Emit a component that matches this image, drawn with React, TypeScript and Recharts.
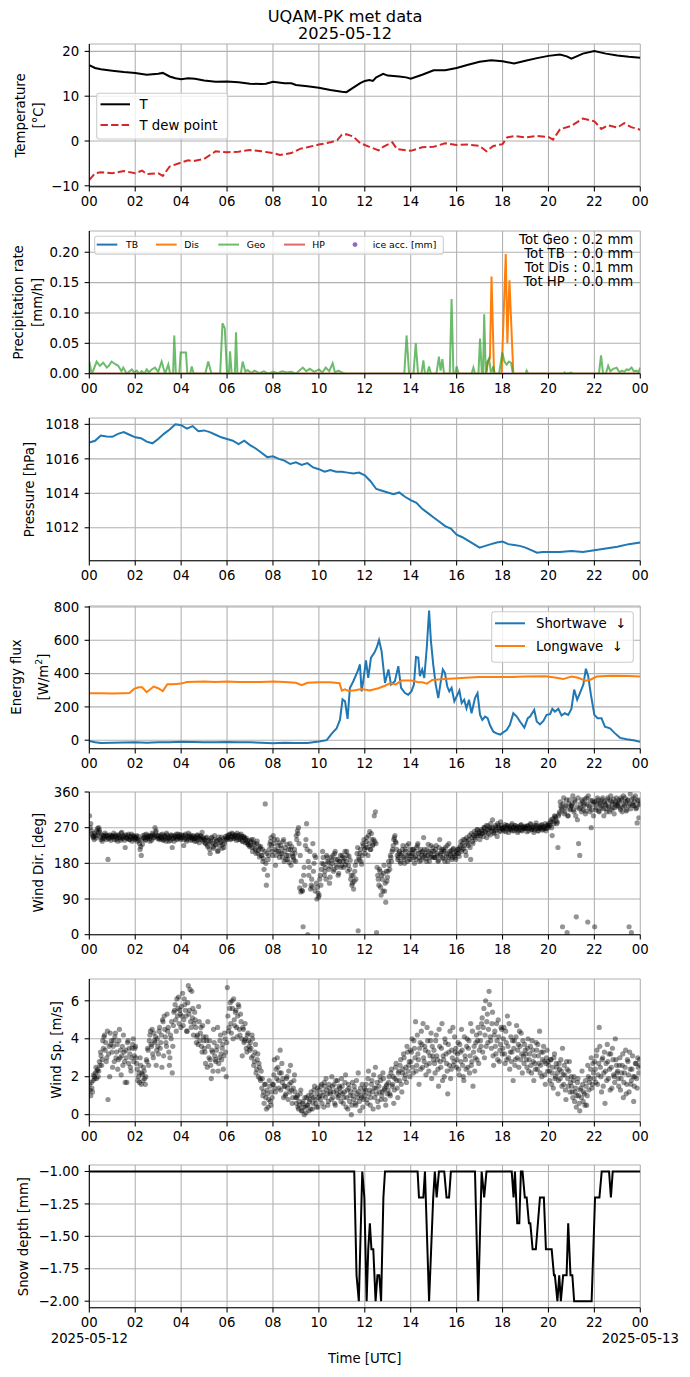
import React from 'react';
import { ComposedChart, Line, Scatter, XAxis, YAxis, CartesianGrid } from 'recharts';

// ---------------- DATA ----------------
const hourTicks = [0, 2, 4, 6, 8, 10, 12, 14, 16, 18, 20, 22, 24];

const tempT: [number, number][] = [
  [0, 16.9], [0.25, 16.3], [0.5, 16.0], [1, 15.7], [1.5, 15.4], [2, 15.2], [2.5, 14.8], [3, 15.0], [3.2, 15.2], [3.5, 14.4],
  [3.75, 14.0], [4, 13.8], [4.3, 14.0], [4.6, 13.9], [5, 13.5], [5.5, 13.2], [6, 13.3], [6.5, 13.1], [7, 12.8], [7.5, 12.7],
  [7.7, 12.8], [8, 13.2], [8.5, 12.9], [8.8, 12.9], [9, 12.5], [9.5, 12.2], [10, 11.9], [10.5, 11.4], [11, 11.0], [11.2, 10.9],
  [11.5, 11.9], [11.8, 12.9], [12, 13.4], [12.2, 13.6], [12.35, 13.4], [12.5, 14.2], [12.8, 15.0], [13, 14.6], [13.5, 14.4], [13.8, 14.2],
  [14, 13.9], [14.5, 14.8], [15, 15.8], [15.5, 15.8], [16, 16.3], [16.5, 17.0], [17, 17.7], [17.5, 18.0], [18, 17.8], [18.5, 17.3],
  [19, 17.9], [19.5, 18.5], [20, 19.0], [20.5, 19.3], [20.8, 18.9], [21, 18.4], [21.5, 19.5], [22, 20.1], [22.5, 19.5], [23, 19.1],
  [23.5, 18.8], [24, 18.6],
];

const tempTd: [number, number][] = [
  [0, -8.7], [0.25, -7.2], [0.5, -7.0], [1, -7.2], [1.5, -6.7], [2, -7.2], [2.3, -6.6], [2.5, -7.4], [3, -7.2], [3.2, -7.8],
  [3.5, -5.7], [4, -4.8], [4.3, -4.3], [4.5, -4.5], [5, -4.0], [5.5, -2.3], [6, -2.5], [6.5, -2.4], [7, -2.0], [7.5, -2.3],
  [8, -2.7], [8.3, -3.1], [8.8, -2.7], [9.2, -1.7], [9.5, -1.4], [10, -0.8], [10.5, -0.3], [10.8, 0.2], [11, 1.4], [11.2, 1.5],
  [11.5, 1.0], [11.8, -0.5], [12.2, -1.3], [12.6, -2.1], [12.8, -1.3], [13.2, -0.3], [13.4, -1.8], [14, -2.2], [14.5, -1.4], [15, -1.3],
  [15.5, -0.5], [16, -0.9], [16.5, -0.8], [17, -1.1], [17.3, -2.3], [17.6, -1.1], [18, -0.7], [18.2, 0.8], [18.5, 1.1], [19, 0.8],
  [19.5, 1.1], [20, 0.9], [20.2, 0.3], [20.5, 2.6], [21, 3.4], [21.5, 5.0], [22, 4.4], [22.3, 2.7], [22.6, 3.5], [23, 3.0],
  [23.3, 4.0], [23.6, 3.1], [24, 2.5],
];

const precipTB: [number, number][] = [[0, 0], [24, 0]];
const precipHP: [number, number][] = [[0, 0], [24, 0]];
const precipDis: [number, number][] = [
  [0, 0], [17.3, 0], [17.36, 0.02], [17.45, 0.025], [17.52, 0.16], [17.63, 0], [17.96, 0], [18.14, 0.197], [18.21, 0.05],
  [18.3, 0.154], [18.47, 0], [24, 0],
];
const precipGeo: [number, number][] = [
  [0, 0.02], [0.1, 0], [0.17, 0.005], [0.32, 0.02], [0.46, 0.013], [0.61, 0.018], [0.76, 0.01], [0.85, 0.013], [0.97, 0.02], [1.12, 0.016],
  [1.26, 0.013], [1.4, 0.004], [1.48, 0.01], [1.63, 0], [1.85, 0.007], [1.95, 0.002], [2.06, 0.005], [2.18, 0], [2.28, 0.004], [2.4, 0],
  [2.5, 0.007], [2.6, 0.002], [2.72, 0.007], [2.86, 0.01], [3.0, 0.003], [3.15, 0.02], [3.3, 0], [3.44, 0.015], [3.52, 0], [3.65, 0],
  [3.7, 0.063], [3.77, 0], [3.92, 0], [3.98, 0.035], [4.21, 0.035], [4.27, 0], [4.4, 0], [4.46, 0.012], [4.55, 0], [5.05, 0],
  [5.18, 0.02], [5.32, 0], [5.7, 0], [5.8, 0.083], [5.9, 0.075], [6.0, 0], [6.08, 0], [6.13, 0.037], [6.2, 0], [6.34, 0],
  [6.39, 0.068], [6.45, 0], [6.6, 0], [6.68, 0.02], [6.8, 0.003], [6.9, 0.006], [7.05, 0.001], [7.2, 0.005], [7.4, 0.001], [7.6, 0.004],
  [7.8, 0], [8.0, 0.003], [8.2, 0.001], [8.4, 0.004], [8.6, 0.002], [8.8, 0.003], [9.0, 0], [9.3, 0.01], [9.45, 0.004], [9.6, 0.008],
  [9.8, 0.003], [10.0, 0.007], [10.15, 0.002], [10.3, 0.01], [10.45, 0.004], [10.6, 0.017], [10.7, 0.002], [10.85, 0.005], [11.0, 0.002], [11.15, 0],
  [13.72, 0], [13.82, 0.063], [13.93, 0], [14.12, 0], [14.22, 0.05], [14.32, 0], [14.47, 0], [14.55, 0.022], [14.62, 0], [14.72, 0],
  [14.8, 0.012], [14.88, 0], [15.12, 0], [15.23, 0.028], [15.3, 0.005], [15.38, 0.024], [15.45, 0], [15.7, 0], [15.78, 0.123], [15.86, 0],
  [15.95, 0], [16.0, 0.012], [16.08, 0], [16.65, 0], [16.73, 0.01], [16.8, 0], [16.95, 0], [17.02, 0.058], [17.1, 0], [17.15, 0],
  [17.2, 0.098], [17.27, 0], [17.35, 0.02], [17.41, 0.025], [17.5, 0], [17.6, 0.012], [17.66, 0], [17.85, 0], [17.99, 0.035], [18.08, 0.02],
  [18.18, 0.015], [18.28, 0.02], [18.37, 0.018], [18.45, 0], [19.0, 0], [19.05, 0.005], [19.12, 0], [20.64, 0], [20.7, 0.002], [20.75, 0],
  [21.0, 0.002], [21.05, 0], [22.2, 0], [22.29, 0.03], [22.38, 0], [22.5, 0], [22.6, 0.013], [22.7, 0.004], [22.82, 0.008], [22.97, 0.01],
  [23.1, 0.002], [23.19, 0.005], [23.3, 0.003], [23.4, 0.007], [23.5, 0.006], [23.62, 0.01], [23.72, 0.004], [23.84, 0.005], [23.92, 0.002], [24, 0.01],
];

const pressure: [number, number][] = [
  [0, 1016.95], [0.25, 1017.05], [0.5, 1017.35], [0.75, 1017.3], [1, 1017.28], [1.25, 1017.45], [1.5, 1017.55], [1.75, 1017.4], [2, 1017.25], [2.25, 1017.2],
  [2.5, 1017.0], [2.75, 1016.9], [3, 1017.15], [3.25, 1017.45], [3.5, 1017.7], [3.75, 1018.0], [4, 1017.95], [4.25, 1017.75], [4.5, 1017.9], [4.75, 1017.6],
  [5, 1017.65], [5.25, 1017.55], [5.5, 1017.4], [5.75, 1017.25], [6, 1017.15], [6.25, 1017.05], [6.5, 1016.85], [6.75, 1017.05], [7, 1016.8], [7.25, 1016.6],
  [7.5, 1016.35], [7.75, 1016.1], [8, 1016.15], [8.25, 1016.0], [8.5, 1015.9], [8.75, 1015.7], [9, 1015.8], [9.25, 1015.65], [9.5, 1015.75], [9.75, 1015.5],
  [10, 1015.4], [10.25, 1015.25], [10.5, 1015.35], [10.75, 1015.25], [11, 1015.25], [11.25, 1015.2], [11.5, 1015.15], [11.75, 1015.2], [12, 1015.05], [12.25, 1014.7],
  [12.5, 1014.25], [12.75, 1014.15], [13, 1014.05], [13.25, 1013.95], [13.5, 1014.05], [13.75, 1013.8], [14, 1013.6], [14.25, 1013.45], [14.5, 1013.1], [14.75, 1012.85],
  [15, 1012.6], [15.25, 1012.35], [15.5, 1012.1], [15.75, 1011.95], [16, 1011.6], [16.25, 1011.45], [16.5, 1011.25], [16.75, 1011.05], [17, 1010.85], [17.25, 1010.95],
  [17.5, 1011.05], [17.75, 1011.15], [18, 1011.2], [18.25, 1011.05], [18.5, 1011.0], [18.75, 1010.95], [19, 1010.85], [19.25, 1010.7], [19.5, 1010.55], [19.75, 1010.6],
  [20, 1010.6], [20.5, 1010.6], [21, 1010.65], [21.5, 1010.6], [22, 1010.7], [22.5, 1010.8], [23, 1010.9], [23.5, 1011.05], [24, 1011.15],
];

const shortwave: [number, number][] = [
  [0, -5], [0.25, -12], [0.5, -17], [1, -15], [1.5, -14], [2, -13], [2.5, -15], [3, -13], [3.5, -12], [4, -9],
  [4.5, -11], [5, -13], [5.5, -12], [6, -11], [6.5, -12], [7, -13], [7.5, -16], [8, -18], [8.5, -16], [9, -17],
  [9.5, -17], [10, -8], [10.34, 0], [10.56, 40], [10.77, 70], [10.92, 123], [11.03, 245], [11.14, 233], [11.25, 128], [11.35, 314],
  [11.5, 354], [11.69, 415], [11.79, 455], [11.86, 293], [11.93, 354], [12.05, 480], [12.15, 374], [12.27, 496], [12.42, 526], [12.52, 557],
  [12.62, 601], [12.73, 536], [12.88, 344], [13.03, 425], [13.14, 334], [13.31, 354], [13.46, 445], [13.58, 314], [13.75, 283], [13.89, 273],
  [14.03, 293], [14.14, 334], [14.23, 500], [14.33, 496], [14.4, 385], [14.5, 425], [14.59, 374], [14.7, 557], [14.8, 779], [14.88, 597],
  [14.98, 456], [15.09, 334], [15.2, 253], [15.3, 344], [15.4, 425], [15.49, 405], [15.59, 324], [15.68, 293], [15.78, 314], [15.9, 233],
  [16.0, 263], [16.12, 298], [16.22, 223], [16.33, 243], [16.43, 192], [16.54, 243], [16.65, 162], [16.8, 253], [16.91, 283], [17.02, 152],
  [17.12, 122], [17.24, 142], [17.35, 132], [17.45, 91], [17.6, 51], [17.74, 41], [17.9, 34], [18.03, 47], [18.18, 61], [18.32, 92],
  [18.47, 162], [18.62, 142], [18.76, 112], [18.95, 75], [19.1, 132], [19.2, 142], [19.38, 182], [19.49, 112], [19.63, 95], [19.78, 116],
  [19.92, 152], [20.07, 156], [20.17, 188], [20.28, 172], [20.43, 188], [20.57, 148], [20.71, 162], [20.86, 152], [21.0, 188], [21.12, 304],
  [21.25, 243], [21.37, 283], [21.52, 334], [21.63, 429], [21.73, 385], [21.85, 273], [22.0, 152], [22.14, 132], [22.31, 132], [22.46, 81],
  [22.68, 71], [22.9, 41], [23.12, 14], [23.41, 6], [23.7, 0], [24, -10],
];

const longwave: [number, number][] = [
  [0, 282], [0.5, 282], [1, 281], [1.5, 282], [1.75, 283], [1.95, 308], [2.15, 318], [2.3, 318], [2.5, 288], [2.8, 322],
  [3.0, 312], [3.2, 295], [3.4, 336], [3.6, 336], [3.8, 338], [4.0, 340], [4.25, 350], [5, 352], [5.5, 350], [6, 352],
  [6.5, 350], [7, 350], [7.5, 350], [8, 353], [8.5, 350], [9, 345], [9.25, 330], [9.5, 345], [10, 348], [10.5, 348],
  [10.9, 342], [11.0, 298], [11.14, 306], [11.3, 295], [11.57, 300], [11.86, 308], [12.22, 298], [12.59, 312], [12.88, 327], [13.1, 342],
  [13.35, 335], [13.6, 358], [14.03, 358], [14.3, 350], [14.5, 348], [14.7, 340], [14.94, 362], [15.49, 368], [16.22, 374], [16.95, 380],
  [17.5, 380], [18.4, 380], [19, 382], [19.85, 384], [20.28, 377], [20.64, 367], [21.0, 382], [21.3, 375], [21.6, 357], [21.8, 362],
  [22.1, 382], [22.75, 387], [23.5, 386], [24, 383],
];

// wind: two interleaved sets of 20 readings per hour, one row per hour
const windDirByHourA: number[][] = [
  [300, 280, 255, 245, 240, 250, 262, 268, 270, 258, 240, 236, 250, 244, 252, 248, 190, 242, 250, 246],
  [250, 256, 248, 240, 244, 252, 246, 238, 258, 245, 250, 220, 246, 242, 254, 240, 248, 236, 250, 244],
  [246, 250, 242, 238, 215, 200, 228, 245, 252, 240, 246, 250, 242, 248, 238, 252, 246, 270, 262, 250],
  [244, 240, 252, 246, 238, 250, 244, 256, 242, 236, 248, 252, 220, 244, 250, 246, 240, 254, 248, 244],
  [252, 246, 225, 250, 244, 240, 256, 248, 238, 244, 250, 242, 246, 236, 252, 240, 244, 248, 258, 236],
  [240, 230, 246, 222, 236, 205, 244, 230, 218, 250, 226, 238, 212, 240, 232, 246, 228, 220, 238, 244],
  [250, 246, 254, 242, 256, 248, 244, 252, 238, 250, 246, 240, 254, 236, 248, 244, 240, 232, 228, 238],
  [226, 240, 210, 232, 218, 205, 236, 212, 196, 222, 200, 185, 165, 330, 125, 150, 200, 228, 245, 210],
  [250, 240, 175, 212, 225, 232, 205, 218, 196, 240, 210, 190, 228, 200, 182, 215, 222, 198, 188, 206],
  [250, 262, 270, 118, 108, 112, 20, 170, 225, 280, 0, 150, 210, 125, 120, 160, 200, 195, 90, 105],
  [100, 150, 165, 210, 178, 160, 140, 195, 182, 130, 172, 188, 200, 165, 210, 176, 190, 155, 185, 170],
  [200, 185, 192, 176, 210, 160, 198, 188, 150, 130, 115, 160, 140, 205, 10, 190, 215, 178, 230, 240],
  [205, 235, 220, 250, 260, 215, 240, 228, 300, 310, 5, 150, 125, 160, 100, 140, 155, 110, 82, 135],
  [160, 175, 200, 185, 215, 240, 250, 232, 200, 195, 210, 180, 205, 225, 190, 215, 198, 185, 230, 205],
  [190, 205, 215, 180, 198, 220, 230, 195, 208, 188, 210, 245, 200, 192, 215, 228, 185, 205, 198, 220],
  [210, 195, 225, 200, 188, 240, 205, 215, 192, 210, 220, 198, 185, 230, 205, 212, 195, 218, 200, 190],
  [205, 215, 198, 225, 210, 230, 218, 240, 200, 235, 225, 250, 190, 245, 230, 260, 240, 250, 265, 255],
  [240, 255, 262, 248, 270, 258, 245, 275, 265, 252, 268, 290, 258, 262, 270, 248, 275, 260, 285, 268],
  [270, 262, 278, 268, 275, 258, 272, 265, 280, 270, 262, 275, 268, 258, 272, 265, 278, 262, 270, 268],
  [272, 260, 275, 268, 280, 265, 270, 258, 276, 282, 268, 262, 274, 270, 278, 266, 272, 280, 268, 275],
  [280, 275, 290, 250, 285, 300, 295, 280, 220, 305, 335, 320, 20, 345, 310, 325, 5, 300, 340, 318],
  [325, 350, 310, 335, 45, 290, 230, 200, 320, 340, 315, 330, 305, 345, 32, 325, 310, 270, 338, 300],
  [20, 315, 330, 340, 310, 335, 320, 345, 300, 330, 318, 340, 325, 310, 350, 335, 320, 305, 330, 345],
  [330, 340, 320, 345, 310, 350, 325, 335, 315, 340, 20, 355, 5, 330, 345, 325, 318, 282, 340, 328],
];

const windDirByHourB: number[][] = [
  [270, 262, 250, 248, 256, 244, 250, 258, 264, 246, 252, 242, 248, 256, 240, 250, 244, 252, 238, 248],
  [246, 240, 252, 248, 236, 250, 244, 256, 242, 248, 238, 252, 244, 250, 240, 246, 254, 242, 248, 240],
  [244, 236, 248, 230, 222, 240, 250, 244, 238, 254, 244, 248, 236, 250, 256, 244, 250, 258, 248, 242],
  [250, 246, 242, 254, 240, 248, 236, 252, 246, 244, 238, 250, 242, 236, 248, 254, 242, 246, 252, 240],
  [244, 250, 240, 254, 236, 248, 244, 252, 246, 240, 248, 236, 242, 250, 246, 232, 250, 240, 246, 242],
  [232, 244, 226, 238, 216, 234, 246, 222, 240, 228, 236, 210, 246, 224, 236, 218, 242, 230, 248, 240],
  [244, 252, 240, 248, 254, 242, 250, 246, 256, 240, 252, 244, 248, 236, 246, 232, 244, 236, 226, 222],
  [234, 220, 240, 228, 214, 230, 206, 224, 218, 200, 215, 192, 210, 180, 205, 190, 215, 235, 225, 200],
  [230, 215, 200, 240, 210, 195, 225, 205, 235, 185, 220, 200, 190, 215, 230, 175, 205, 195, 215, 185],
  [240, 255, 230, 200, 135, 110, 150, 125, 240, 215, 185, 170, 115, 140, 230, 180, 110, 130, 120, 95],
  [140, 125, 180, 195, 150, 170, 200, 185, 165, 145, 195, 180, 160, 205, 190, 170, 150, 185, 200, 175],
  [195, 170, 210, 185, 200, 175, 165, 140, 125, 150, 135, 175, 185, 220, 195, 205, 185, 200, 225, 215],
  [220, 245, 200, 230, 215, 255, 225, 240, 235, 230, 170, 140, 165, 120, 150, 110, 175, 130, 160, 145],
  [185, 165, 195, 210, 225, 245, 235, 215, 190, 205, 185, 200, 215, 195, 180, 210, 225, 200, 190, 215],
  [200, 215, 195, 210, 190, 225, 205, 185, 215, 200, 195, 215, 205, 185, 200, 210, 195, 225, 210, 195],
  [195, 215, 205, 185, 220, 200, 210, 195, 215, 185, 205, 225, 195, 210, 200, 190, 215, 205, 195, 210],
  [215, 205, 220, 235, 215, 240, 225, 210, 245, 230, 240, 220, 255, 235, 250, 245, 255, 265, 250, 260],
  [250, 265, 255, 270, 260, 275, 265, 255, 270, 280, 262, 270, 255, 275, 265, 280, 270, 262, 275, 268],
  [265, 272, 260, 275, 270, 265, 268, 276, 262, 270, 275, 266, 272, 262, 270, 276, 264, 272, 268, 274],
  [268, 274, 262, 270, 278, 266, 272, 264, 270, 275, 262, 270, 268, 276, 264, 272, 268, 262, 276, 270],
  [276, 285, 270, 292, 280, 298, 288, 284, 300, 310, 325, 315, 330, 305, 320, 340, 300, 330, 315, 325],
  [330, 315, 340, 300, 322, 345, 318, 330, 310, 335, 325, 342, 312, 330, 350, 320, 338, 315, 328, 335],
  [335, 320, 345, 312, 330, 325, 340, 318, 335, 328, 310, 345, 322, 338, 315, 330, 342, 320, 335, 325],
  [325, 335, 315, 340, 322, 330, 345, 312, 338, 325, 330, 318, 342, 326, 335, 350, 320, 338, 295, 330],
];

const windSpeedByHourA: number[][] = [
  [1.6, 1.0, 1.4, 1.8, 2.0, 2.2, 1.9, 2.4, 2.3, 2.6, 3.1, 2.9, 3.5, 4.2, 3.8, 3.0, 0.8, 3.6, 4.3, 3.9],
  [2.5, 3.9, 4.1, 3.0, 3.7, 2.9, 4.5, 3.4, 3.1, 2.6, 3.3, 1.7, 3.0, 3.8, 2.7, 3.2, 2.3, 3.5, 4.0, 3.1],
  [3.6, 2.7, 1.8, 2.2, 3.0, 1.6, 2.1, 2.5, 1.9, 2.0, 2.8, 3.4, 3.9, 4.4, 3.6, 3.2, 4.3, 3.8, 2.6, 4.0],
  [3.2, 4.6, 3.8, 2.5, 4.9, 5.2, 4.1, 3.6, 4.4, 3.3, 3.0, 4.0, 2.2, 4.7, 5.5, 5.0, 6.1, 5.6, 4.8, 5.3],
  [5.7, 6.4, 5.0, 5.8, 5.2, 4.4, 6.8, 5.5, 4.9, 6.5, 5.6, 4.8, 5.0, 3.8, 4.2, 5.7, 3.9, 4.6, 3.3, 4.1],
  [3.5, 2.7, 3.9, 4.9, 3.0, 2.9, 1.9, 3.3, 4.5, 3.1, 2.8, 3.6, 2.3, 3.0, 4.2, 2.9, 3.7, 3.1, 4.0, 2.0],
  [6.7, 4.4, 5.6, 4.8, 6.0, 4.0, 5.0, 5.4, 4.6, 5.2, 5.7, 4.2, 4.9, 3.1, 4.5, 3.9, 4.0, 3.3, 4.3, 3.6],
  [3.8, 3.0, 4.0, 2.6, 3.3, 2.2, 2.9, 2.0, 2.5, 1.8, 1.4, 1.0, 0.6, 1.6, 0.3, 1.1, 0.8, 1.5, 0.5, 0.9],
  [1.6, 2.9, 1.2, 1.9, 2.5, 1.4, 3.4, 2.2, 1.7, 0.9, 1.5, 1.1, 2.0, 0.8, 1.6, 2.6, 1.3, 0.9, 1.8, 1.2],
  [0.6, 1.0, 0.3, 0.5, 1.3, 0.2, 0.7, 0.0, 0.4, 0.9, 0.5, 0.2, 0.8, 1.2, 0.3, 0.9, 1.5, 0.6, 1.1, 0.4],
  [1.3, 0.8, 1.6, 1.0, 0.4, 1.5, 1.9, 1.1, 0.7, 1.4, 1.2, 2.0, 0.9, 1.6, 0.5, 1.3, 1.8, 1.0, 1.4, 0.7],
  [1.5, 0.6, 1.2, 2.1, 0.9, 0.3, 1.4, 1.0, 0.0, 1.7, 0.8, 1.3, 0.5, 1.1, 2.2, 0.7, 1.4, 0.9, 0.4, 1.2],
  [1.0, 1.6, 0.6, 2.3, 1.3, 0.9, 1.8, 0.3, 1.4, 2.5, 1.1, 0.7, 1.5, 2.0, 0.8, 1.2, 1.9, 1.4, 0.5, 1.6],
  [1.3, 2.0, 1.0, 2.4, 1.6, 0.6, 1.9, 2.7, 1.4, 2.2, 1.8, 2.9, 1.2, 2.4, 3.0, 2.1, 1.7, 3.3, 2.6, 2.0],
  [2.8, 4.0, 2.2, 3.5, 4.9, 2.6, 3.2, 1.6, 3.8, 4.4, 2.5, 3.0, 3.6, 2.1, 4.6, 3.3, 2.7, 3.9, 1.9, 3.1],
  [3.4, 2.2, 4.2, 2.9, 1.5, 3.6, 2.5, 4.8, 3.1, 2.0, 3.8, 2.7, 1.1, 3.3, 4.4, 2.4, 3.0, 2.6, 4.1, 3.5],
  [2.9, 3.8, 2.1, 3.3, 4.5, 2.6, 1.8, 3.1, 2.4, 4.0, 3.5, 2.2, 4.8, 2.8, 1.5, 3.6, 3.0, 4.2, 3.9, 2.7],
  [4.3, 3.6, 5.1, 4.6, 3.0, 6.0, 4.9, 3.8, 6.5, 4.1, 3.5, 5.4, 2.6, 4.4, 3.2, 3.9, 5.0, 2.8, 3.7, 4.5],
  [3.5, 4.6, 2.7, 3.8, 5.2, 3.0, 2.4, 4.1, 3.3, 1.8, 3.9, 2.9, 4.7, 3.4, 2.5, 3.6, 4.3, 2.2, 3.1, 3.7],
  [3.2, 2.5, 4.0, 2.9, 3.6, 2.2, 3.4, 1.8, 2.7, 3.8, 2.4, 3.1, 4.4, 2.6, 2.0, 3.3, 2.8, 1.6, 3.0, 2.3],
  [2.6, 1.8, 2.9, 2.2, 1.4, 3.2, 2.0, 2.5, 1.1, 2.7, 1.9, 2.3, 3.5, 1.6, 2.1, 0.8, 2.4, 1.5, 2.8, 1.7],
  [1.5, 0.9, 2.0, 1.2, 0.4, 1.7, 1.0, 0.2, 1.4, 2.3, 0.7, 1.1, 1.8, 0.5, 2.6, 1.3, 1.9, 3.0, 1.6, 2.2],
  [2.8, 1.7, 3.4, 2.1, 4.6, 2.5, 1.2, 3.0, 2.2, 0.6, 2.7, 3.7, 1.9, 2.4, 3.2, 1.4, 2.9, 2.0, 4.0, 2.6],
  [2.3, 1.5, 3.0, 1.9, 2.6, 0.9, 2.2, 3.4, 1.6, 2.8, 1.2, 2.4, 1.8, 3.1, 0.7, 2.0, 2.7, 1.4, 2.5, 2.9],
];

const windSpeedByHourB: number[][] = [
  [1.3, 1.7, 1.2, 2.1, 1.9, 2.5, 2.3, 2.0, 2.8, 3.3, 2.6, 3.9, 4.1, 3.4, 2.8, 4.4, 3.2, 2.0, 3.7, 3.3],
  [3.6, 2.8, 4.3, 3.3, 2.4, 3.9, 3.0, 2.1, 3.6, 4.2, 2.8, 3.4, 1.7, 3.9, 3.5, 2.5, 3.0, 3.7, 2.8, 3.5],
  [3.0, 2.4, 2.0, 1.7, 2.6, 2.2, 1.8, 2.3, 1.6, 2.9, 3.5, 2.6, 4.2, 3.7, 4.5, 3.0, 3.9, 4.1, 3.4, 3.6],
  [4.4, 3.5, 4.2, 5.0, 3.1, 4.5, 3.8, 5.3, 4.6, 2.6, 4.2, 4.9, 3.6, 5.4, 5.8, 4.4, 5.2, 6.2, 5.5, 4.6],
  [5.2, 4.7, 6.1, 5.5, 4.4, 5.9, 5.3, 6.6, 4.6, 5.1, 4.2, 5.4, 4.6, 4.1, 3.7, 4.9, 4.3, 3.6, 4.7, 3.9],
  [3.3, 4.1, 2.5, 3.6, 3.9, 2.6, 3.4, 2.3, 3.8, 2.9, 3.4, 4.6, 2.7, 3.9, 3.2, 3.5, 2.4, 4.3, 3.3, 3.8],
  [5.2, 4.6, 5.9, 4.3, 5.6, 6.1, 4.7, 5.5, 4.1, 5.8, 4.5, 5.3, 4.0, 4.6, 3.8, 4.8, 3.5, 4.2, 3.9, 3.4],
  [3.5, 4.2, 3.1, 2.8, 3.7, 2.4, 3.2, 2.7, 1.9, 2.3, 1.9, 1.2, 1.6, 0.9, 1.3, 0.4, 1.8, 0.7, 1.2, 1.6],
  [2.1, 1.4, 2.4, 3.0, 1.8, 2.2, 1.3, 2.7, 1.9, 1.5, 1.0, 1.9, 1.4, 2.3, 1.2, 1.7, 0.6, 1.4, 2.1, 0.9],
  [0.9, 0.4, 0.7, 1.1, 0.2, 0.6, 0.4, 0.9, 0.1, 0.5, 1.0, 0.7, 0.3, 1.0, 0.6, 1.3, 0.8, 0.4, 1.4, 0.9],
  [1.0, 1.5, 0.6, 1.2, 1.7, 0.9, 1.3, 0.5, 1.6, 1.1, 0.8, 1.5, 1.2, 0.6, 1.8, 1.1, 0.9, 1.5, 1.2, 1.9],
  [1.1, 0.9, 1.7, 0.4, 1.3, 1.6, 0.7, 1.2, 0.5, 1.0, 1.5, 0.6, 1.8, 0.9, 1.2, 0.2, 1.0, 1.6, 0.8, 1.4],
  [1.3, 0.8, 1.9, 1.1, 0.5, 1.6, 1.2, 2.1, 0.9, 1.4, 1.7, 0.4, 1.2, 1.8, 1.0, 2.2, 1.3, 0.8, 1.5, 1.1],
  [1.7, 1.1, 2.2, 1.5, 2.0, 1.3, 2.5, 1.8, 0.9, 2.3, 2.6, 1.6, 2.2, 3.2, 1.9, 2.5, 3.6, 2.3, 2.8, 3.4],
  [3.3, 2.5, 3.9, 3.0, 2.3, 4.2, 2.9, 3.5, 2.4, 3.7, 4.8, 2.8, 3.4, 2.6, 3.9, 2.3, 3.1, 4.3, 3.6, 2.9],
  [2.7, 3.9, 3.1, 2.4, 4.5, 2.8, 3.5, 1.8, 2.9, 4.0, 3.2, 2.3, 3.7, 2.6, 1.9, 3.4, 4.6, 2.8, 3.3, 2.5],
  [3.2, 2.4, 3.7, 2.8, 3.4, 2.0, 4.1, 2.9, 3.6, 2.5, 3.9, 3.1, 2.6, 4.4, 3.3, 2.3, 3.8, 2.9, 4.6, 3.4],
  [3.9, 4.8, 3.3, 5.6, 4.2, 3.6, 5.3, 4.5, 5.8, 3.9, 4.8, 3.1, 4.2, 3.6, 4.8, 2.9, 4.1, 3.4, 4.6, 3.2],
  [4.0, 3.2, 4.4, 2.9, 3.6, 4.8, 3.3, 2.8, 3.9, 3.5, 2.6, 4.1, 3.0, 3.7, 4.4, 2.9, 3.2, 3.9, 2.7, 3.4],
  [2.9, 3.5, 2.3, 3.2, 2.6, 3.9, 2.8, 3.1, 2.4, 3.4, 3.7, 2.7, 2.2, 3.3, 2.9, 3.6, 2.1, 2.7, 3.4, 2.8],
  [2.3, 2.9, 1.6, 2.5, 3.0, 1.9, 2.7, 2.2, 1.8, 2.4, 2.9, 1.5, 2.1, 2.6, 1.3, 2.8, 1.9, 2.3, 1.2, 2.0],
  [1.2, 1.8, 0.7, 1.4, 1.0, 1.9, 0.6, 1.3, 0.9, 1.6, 1.2, 0.5, 1.5, 1.0, 2.0, 1.7, 2.4, 1.4, 2.7, 1.9],
  [2.4, 3.1, 1.6, 2.7, 3.6, 2.0, 2.9, 1.5, 3.3, 2.3, 1.8, 2.8, 3.2, 1.3, 2.5, 3.5, 2.1, 1.7, 2.9, 2.2],
  [1.9, 2.6, 1.3, 2.2, 3.2, 1.7, 2.5, 1.1, 2.9, 2.1, 3.3, 1.6, 2.4, 2.0, 1.5, 2.7, 1.9, 3.0, 2.2, 2.6],
];

const snowDepth: [number, number][] = [
  [0, -1], [11.54, -1], [11.64, -1.8], [11.74, -2], [11.89, -1], [11.98, -1.2], [12.08, -2], [12.15, -1.6], [12.22, -1.4], [12.29, -1.6],
  [12.37, -1.6], [12.47, -2], [12.55, -1.8], [12.63, -1.8], [12.71, -2], [12.81, -1.2], [12.88, -1], [14.3, -1], [14.36, -1.2], [14.55, -1.2],
  [14.62, -1], [14.8, -2], [14.98, -1.2], [15.05, -1], [15.13, -1.2], [15.23, -1], [15.46, -1], [15.56, -1.2], [15.67, -1.2], [15.75, -1],
  [16.8, -1], [16.94, -2], [17.09, -1], [17.2, -1.2], [17.3, -1], [18.4, -1], [18.48, -1.2], [18.54, -1], [18.64, -1.4], [18.73, -1.4],
  [18.8, -1], [18.87, -1], [18.97, -1.2], [19.05, -1.2], [19.15, -1.4], [19.21, -1.4], [19.31, -1.6], [19.45, -1.6], [19.63, -1.2], [19.8, -1.2],
  [19.89, -1.6], [20.14, -1.6], [20.24, -1.8], [20.28, -1.8], [20.39, -2], [20.47, -1.8], [20.54, -2], [20.64, -1.8], [20.79, -1.8], [20.86, -1.4],
  [20.96, -1.8], [21.04, -1.8], [21.12, -2], [21.88, -2], [22.03, -1.2], [22.22, -1.2], [22.32, -1], [22.64, -1], [22.72, -1.2], [22.8, -1],
  [24, -1],
];

const precipTotals = ['Tot Geo : 0.2 mm', 'Tot TB  : 0.0 mm', 'Tot Dis : 0.1 mm', 'Tot HP  : 0.0 mm'];

// ---------------- HELPERS ----------------
const toPts = (arr: [number, number][]) => arr.map(([h, v]) => ({ h, v }));
const fromHourly = (rows: number[][], phase: number) =>
  rows.flatMap((row, hr) => row.map((v, i) => ({ h: hr + (i + phase) / row.length, v })));

const W = 690;
const H = 1377;
const PLOT_L = 89.3;
const PLOT_R = 640.3;
const PH = 142.7;
const FONT = "'DejaVu Sans', 'Liberation Sans', sans-serif";
const FS = 13.3;
const LW = 1.07;

const hourLabel = (v: number) => String(Math.round(v) % 24).padStart(2, '0');
const fmtMinus = (s: string) => s.replace('-', '\u2212');

const tickStyle = { fill: '#000', fontSize: FS, fontFamily: FONT };
const axisStyle = { stroke: '#000', strokeWidth: LW };

const ScatterDot = (p: any) =>
  p.cx == null || p.cy == null ? <g /> : <circle cx={p.cx} cy={p.cy} r={2.6} fill="#000" fillOpacity={0.42} />;

const SnowTick = (p: any) => {
  const v = p.payload.value;
  const date = v === 0 ? '2025-05-12' : v === 24 ? '2025-05-13' : null;
  return (
    <g>
      <text x={p.x} y={p.y} dy="0.71em" textAnchor="middle" fontSize={FS} fill="#000" fontFamily={FONT}>
        {hourLabel(v)}
      </text>
      {date && (
        <text x={p.x} y={p.y + 16} dy="0.71em" textAnchor="middle" fontSize={FS} fill="#000" fontFamily={FONT}>
          {date}
        </text>
      )}
    </g>
  );
};

type PanelProps = {
  top: number;
  yDomain: [number, number];
  yTicks: number[];
  yFmt: (v: number) => string;
  xHeight?: number;
  snowTicks?: boolean;
  children: React.ReactNode;
};

function Panel({ top, yDomain, yTicks, yFmt, xHeight = 40, snowTicks = false, children }: PanelProps) {
  const mt = 10;
  const h = mt + PH + xHeight;
  return (
    <div style={{ position: 'absolute', left: 0, top: top - mt, width: W, height: h }}>
      <ComposedChart width={W} height={h} margin={{ top: mt, right: W - PLOT_R, bottom: 0, left: 0 }}>
        <CartesianGrid stroke="#b0b0b0" strokeWidth={LW} />
        <XAxis
          type="number"
          dataKey="h"
          domain={[0, 24]}
          ticks={hourTicks}
          interval={0}
          allowDataOverflow
          height={xHeight}
          tickSize={4.7}
          tickMargin={5}
          tick={snowTicks ? <SnowTick /> : tickStyle}
          tickFormatter={hourLabel}
          tickLine={axisStyle}
          axisLine={axisStyle}
        />
        <YAxis
          type="number"
          domain={yDomain}
          ticks={yTicks}
          interval={0}
          allowDataOverflow
          width={PLOT_L}
          tickSize={4.7}
          tickMargin={5.5}
          tick={tickStyle}
          tickFormatter={yFmt}
          tickLine={axisStyle}
          axisLine={axisStyle}
        />
        <XAxis
          xAxisId="top"
          orientation="top"
          type="number"
          dataKey="h"
          domain={[0, 24]}
          allowDataOverflow
          height={0}
          tick={false}
          tickLine={false}
          axisLine={axisStyle}
        />
        <YAxis
          yAxisId="right"
          orientation="right"
          type="number"
          domain={yDomain}
          allowDataOverflow
          width={0}
          tick={false}
          tickLine={false}
          axisLine={axisStyle}
        />
        {children}
      </ComposedChart>
    </div>
  );
}

const VLabel = ({ x, y, children }: { x: number; y: number; children: React.ReactNode }) => (
  <text
    transform={`translate(${x},${y}) rotate(-90)`}
    textAnchor="middle"
    dominantBaseline="central"
    fontSize={FS}
    fill="#000"
  >
    {children}
  </text>
);

const TOPS = [44, 231, 418.3, 605.7, 791.5, 978.5, 1165.3];

export default function App() {
  const lineCommon = { type: 'linear' as const, dot: false, activeDot: false, isAnimationActive: false };
  const fixed2 = (v: number) => fmtMinus(v.toFixed(2));
  const intFmt = (v: number) => fmtMinus(String(v));
  const windDirPts = [...fromHourly(windDirByHourA, 0.25), ...fromHourly(windDirByHourB, 0.75)];
  const windSpPts = [...fromHourly(windSpeedByHourA, 0.25), ...fromHourly(windSpeedByHourB, 0.75)];
  return (
    <div
      style={{
        position: 'absolute',
        left: 0,
        top: 0,
        width: W,
        height: H,
        background: '#fff',
        fontFamily: FONT,
        overflow: 'hidden',
      }}
    >
      {/* Temperature */}
      <Panel top={TOPS[0]} yDomain={[-10.2, 21.65]} yTicks={[-10, 0, 10, 20]} yFmt={intFmt}>
        <Line {...lineCommon} data={toPts(tempT)} dataKey="v" stroke="#000" strokeWidth={2} />
        <Line {...lineCommon} data={toPts(tempTd)} dataKey="v" stroke="#d62728" strokeWidth={2} strokeDasharray="7.4 3.2" />
      </Panel>

      {/* Precipitation */}
      <Panel top={TOPS[1]} yDomain={[0, 0.235]} yTicks={[0, 0.05, 0.1, 0.15, 0.2]} yFmt={fixed2}>
        <Line {...lineCommon} data={toPts(precipTB)} dataKey="v" stroke="#1f77b4" strokeWidth={2} />
        <Line {...lineCommon} data={toPts(precipDis)} dataKey="v" stroke="#ff7f0e" strokeWidth={2} />
        <Line {...lineCommon} data={toPts(precipGeo)} dataKey="v" stroke="#2ca02c" strokeOpacity={0.7} strokeWidth={2} />
        <Line {...lineCommon} data={toPts(precipHP)} dataKey="v" stroke="#d62728" strokeOpacity={0.7} strokeWidth={2} />
      </Panel>

      {/* Pressure */}
      <Panel top={TOPS[2]} yDomain={[1010.09, 1018.37]} yTicks={[1012, 1014, 1016, 1018]} yFmt={intFmt}>
        <Line {...lineCommon} data={toPts(pressure)} dataKey="v" stroke="#1f77b4" strokeWidth={2} />
      </Panel>

      {/* Energy flux */}
      <Panel top={TOPS[3]} yDomain={[-51, 806]} yTicks={[0, 200, 400, 600, 800]} yFmt={intFmt}>
        <Line {...lineCommon} data={toPts(shortwave)} dataKey="v" stroke="#1f77b4" strokeWidth={2} />
        <Line {...lineCommon} data={toPts(longwave)} dataKey="v" stroke="#ff7f0e" strokeWidth={2} />
      </Panel>

      {/* Wind direction */}
      <Panel top={TOPS[4]} yDomain={[0, 360]} yTicks={[0, 90, 180, 270, 360]} yFmt={intFmt}>
        <Scatter data={windDirPts} dataKey="v" shape={ScatterDot} isAnimationActive={false} />
      </Panel>

      {/* Wind speed */}
      <Panel top={TOPS[5]} yDomain={[-0.37, 7.15]} yTicks={[0, 2, 4, 6]} yFmt={intFmt}>
        <Scatter data={windSpPts} dataKey="v" shape={ScatterDot} isAnimationActive={false} />
      </Panel>

      {/* Snow depth */}
      <Panel
        top={TOPS[6]}
        yDomain={[-2.05, -0.95]}
        yTicks={[-2, -1.75, -1.5, -1.25, -1]}
        yFmt={fixed2}
        xHeight={60}
        snowTicks
      >
        <Line {...lineCommon} data={toPts(snowDepth)} dataKey="v" stroke="#000" strokeWidth={2} />
      </Panel>

      {/* Overlay: titles, labels, legends */}
      <svg
        width={W}
        height={H}
        style={{ position: 'absolute', left: 0, top: 0, pointerEvents: 'none' }}
        fontFamily={FONT}
      >
        <text x={345} y={21.5} textAnchor="middle" fontSize={16.2} fill="#000">UQAM-PK met data</text>
        <text x={345} y={39.3} textAnchor="middle" fontSize={16.2} fill="#000">2025-05-12</text>

        <VLabel x={20} y={115.4}>Temperature</VLabel>
        <VLabel x={38.5} y={115.4}>[°C]</VLabel>
        <VLabel x={18.5} y={302.4}>Precipitation rate</VLabel>
        <VLabel x={37.5} y={302.4}>[mm/h]</VLabel>
        <VLabel x={29.5} y={489.6}>Pressure [hPa]</VLabel>
        <VLabel x={16} y={677}>Energy flux</VLabel>
        <VLabel x={43} y={677}>
          [W/m<tspan dy={-5} fontSize={9.3}>2</tspan>
          <tspan dy={5}>]</tspan>
        </VLabel>
        <VLabel x={38} y={862.7}>Wind Dir. [deg]</VLabel>
        <VLabel x={56} y={1049.8}>Wind Sp. [m/s]</VLabel>
        <VLabel x={23} y={1236.6}>Snow depth [mm]</VLabel>

        <text x={364.8} y={1363} textAnchor="middle" fontSize={FS} fill="#000">Time [UTC]</text>

        {/* Temperature legend */}
        <rect x={96.7} y={93.3} width={131} height={45.7} rx={2.8} fill="#fff" fillOpacity={0.8} stroke="#cccccc" strokeWidth={LW} />
        <line x1={100.5} x2={130} y1={104.3} y2={104.3} stroke="#000" strokeWidth={2} />
        <text x={139.5} y={104.3} dominantBaseline="central" fontSize={FS} fill="#000">T</text>
        <line x1={100.5} x2={130} y1={125} y2={125} stroke="#d62728" strokeWidth={2} strokeDasharray="7.4 3.2" />
        <text x={139.5} y={125} dominantBaseline="central" fontSize={FS} fill="#000">T dew point</text>

        {/* Precipitation legend */}
        <rect x={94.7} y={236.3} width={348.6} height={17.8} rx={2} fill="#fff" fillOpacity={0.8} stroke="#cccccc" strokeWidth={LW} />
        <line x1={96.7} x2={117.3} y1={244.6} y2={244.6} stroke="#1f77b4" strokeWidth={2} />
        <text x={126} y={244.6} dominantBaseline="central" fontSize={9.3} fill="#000">TB</text>
        <line x1={156} x2={176.7} y1={244.6} y2={244.6} stroke="#ff7f0e" strokeWidth={2} />
        <text x={184.3} y={244.6} dominantBaseline="central" fontSize={9.3} fill="#000">Dis</text>
        <line x1={218.3} x2={239} y1={244.6} y2={244.6} stroke="#2ca02c" strokeOpacity={0.7} strokeWidth={2} />
        <text x={246.7} y={244.6} dominantBaseline="central" fontSize={9.3} fill="#000">Geo</text>
        <line x1={284} x2={305} y1={244.6} y2={244.6} stroke="#d62728" strokeOpacity={0.7} strokeWidth={2} />
        <text x={312.3} y={244.6} dominantBaseline="central" fontSize={9.3} fill="#000">HP</text>
        <circle cx={355} cy={244.6} r={2.4} fill="#9467bd" />
        <text x={372.7} y={244.6} dominantBaseline="central" fontSize={9.3} fill="#000">ice acc. [mm]</text>

        {/* Precipitation totals */}
        {precipTotals.map((t, i) => (
          <text key={t} x={633.3} y={243.8 + i * 13.9} textAnchor="end" fontSize={FS} fill="#000" style={{ whiteSpace: 'pre' }}>
            {t}
          </text>
        ))}

        {/* Energy legend */}
        <rect x={491.7} y={611.7} width={141.6} height={50.6} rx={2.8} fill="#fff" fillOpacity={0.8} stroke="#cccccc" strokeWidth={LW} />
        <line x1={495} x2={525} y1={623.3} y2={623.3} stroke="#1f77b4" strokeWidth={2} />
        <text x={536} y={623.3} dominantBaseline="central" fontSize={FS} fill="#000" style={{ whiteSpace: 'pre' }}>Shortwave  ↓</text>
        <line x1={495} x2={525} y1={646} y2={646} stroke="#ff7f0e" strokeWidth={2} />
        <text x={536} y={646} dominantBaseline="central" fontSize={FS} fill="#000" style={{ whiteSpace: 'pre' }}>Longwave  ↓</text>
      </svg>
    </div>
  );
}
